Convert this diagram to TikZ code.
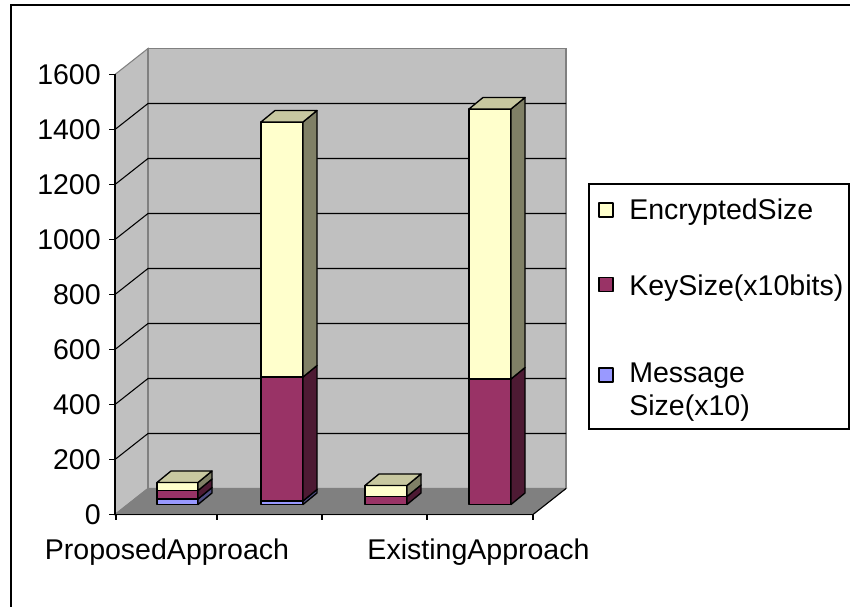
\documentclass[tikz,border=0pt]{standalone}
\usepackage{fontspec}
\setmainfont{Liberation Sans}
\definecolor{wallgray}{HTML}{C0C0C0}
\definecolor{edgegray}{HTML}{808080}
\definecolor{floorgray}{HTML}{808080}
\definecolor{encfront}{HTML}{FFFFCC}
\definecolor{enctop}{HTML}{C8C8A0}
\definecolor{encside}{HTML}{808066}
\definecolor{keyfront}{HTML}{993366}
\definecolor{keytop}{HTML}{7A2952}
\definecolor{keyside}{HTML}{4D1A33}
\definecolor{msgfront}{HTML}{9999FF}
\definecolor{msgtop}{HTML}{7A7ACC}
\definecolor{msgside}{HTML}{4D4D80}

\begin{document}
\begin{tikzpicture}[x=.75pt, y=.75pt,
	every node/.style={font=\fontsize{21.4}{26}\selectfont, inner sep=0pt},
	wall/.style={fill=wallgray, draw=edgegray, line width=.8pt},
	floorpanel/.style={fill=floorgray, draw=edgegray, line width=.8pt},
	gridline/.style={draw=black, line width=.8pt},
	axis/.style={draw=black, line width=1pt},
	boxedge/.style={draw=black, line width=1pt, line join=round},
	enc/.style={boxedge, fill=encfront},
	enctopface/.style={boxedge, fill=enctop},
	encsideface/.style={boxedge, fill=encside},
	key/.style={boxedge, fill=keyfront},
	keysideface/.style={boxedge, fill=keyside},
	msg/.style={boxedge, fill=msgfront},
	msgsideface/.style={boxedge, fill=msgside}]
\useasboundingbox (0,0) rectangle (850,607);
\draw[line width=1pt] (11,-10) rectangle (860,602);

\filldraw[wall] (115,92.5) -- (148,118.5) -- (148,558.5) -- (115,532.5) -- cycle;
\filldraw[wall] (148,118.5) rectangle (566,558.5);
\draw[gridline] (115,147.5) -- (148,173.5) -- (566,173.5);
\draw[gridline] (115,202.5) -- (148,228.5) -- (566,228.5);
\draw[gridline] (115,257.5) -- (148,283.5) -- (566,283.5);
\draw[gridline] (115,312.5) -- (148,338.5) -- (566,338.5);
\draw[gridline] (115,367.5) -- (148,393.5) -- (566,393.5);
\draw[gridline] (115,422.5) -- (148,448.5) -- (566,448.5);
\draw[gridline] (115,477.5) -- (148,503.5) -- (566,503.5);
\filldraw[floorpanel] (115,92.5) -- (148,118.5) -- (566,118.5) -- (533,92.5) -- cycle;
\draw[gridline] (533,92.5) -- (566,118.5);

\filldraw[msg] (157,102.5) rectangle (198,108);
\filldraw[msgsideface] (198,102.5) -- ++(14,11.5) -- ++(0,5.5) -- ++(-14,-11.5) -- cycle;
\filldraw[key] (157,108) rectangle (198,116.5);
\filldraw[keysideface] (198,108) -- ++(14,11.5) -- ++(0,8.5) -- ++(-14,-11.5) -- cycle;
\filldraw[enc] (157,116.5) rectangle (198,124.5);
\filldraw[encsideface] (198,116.5) -- ++(14,11.5) -- ++(0,8) -- ++(-14,-11.5) -- cycle;
\filldraw[enctopface] (157,124.5) -- ++(14,11.5) -- ++(41,0) -- ++(-14,-11.5) -- cycle;

\filldraw[msg] (261,102.5) rectangle (303,106);
\filldraw[msgsideface] (303,102.5) -- ++(14,11.5) -- ++(0,3.5) -- ++(-14,-11.5) -- cycle;
\filldraw[key] (261,106) rectangle (303,230);
\filldraw[keysideface] (303,106) -- ++(14,11.5) -- ++(0,124) -- ++(-14,-11.5) -- cycle;
\filldraw[enc] (261,230) rectangle (303,485);
\filldraw[encsideface] (303,230) -- ++(14,11.5) -- ++(0,255) -- ++(-14,-11.5) -- cycle;
\filldraw[enctopface] (261,485) -- ++(14,11.5) -- ++(42,0) -- ++(-14,-11.5) -- cycle;

\filldraw[key] (365,102.5) rectangle (407,110.5);
\filldraw[keysideface] (407,102.5) -- ++(14,11.5) -- ++(0,8) -- ++(-14,-11.5) -- cycle;
\filldraw[enc] (365,110.5) rectangle (407,121.5);
\filldraw[encsideface] (407,110.5) -- ++(14,11.5) -- ++(0,11) -- ++(-14,-11.5) -- cycle;
\filldraw[enctopface] (365,121.5) -- ++(14,11.5) -- ++(42,0) -- ++(-14,-11.5) -- cycle;

\filldraw[key] (469,102.5) rectangle (511,228);
\filldraw[keysideface] (511,102.5) -- ++(14,11.5) -- ++(0,125.5) -- ++(-14,-11.5) -- cycle;
\filldraw[enc] (469,228) rectangle (511,498);
\filldraw[encsideface] (511,228) -- ++(14,11.5) -- ++(0,270) -- ++(-14,-11.5) -- cycle;
\filldraw[enctopface] (469,498) -- ++(14,11.5) -- ++(42,0) -- ++(-14,-11.5) -- cycle;

\draw[axis] (115,92.5) -- (115,532.5);
\draw[axis] (109,92.5) -- (115,92.5) (109,147.5) -- (115,147.5)
	(109,202.5) -- (115,202.5) (109,257.5) -- (115,257.5)
	(109,312.5) -- (115,312.5) (109,367.5) -- (115,367.5)
	(109,422.5) -- (115,422.5) (109,477.5) -- (115,477.5)
	(109,532.5) -- (115,532.5);
\draw[axis] (115,92.5) -- (533,92.5);
\draw[axis] (116,92.5) -- (116,87) (217,92.5) -- (217,87)
	(322,92.5) -- (322,87) (427,92.5) -- (427,87) (533,92.5) -- (533,87);

\node[anchor=east] (v0) at (101,92.5) {0};
\node[anchor=east] (v200) at (101,147.5) {200};
\node[anchor=east] (v400) at (101,202.5) {400};
\node[anchor=east] (v600) at (101,257.5) {600};
\node[anchor=east] (v800) at (101,312.5) {800};
\node[anchor=east] (v1000) at (101,367.5) {1000};
\node[anchor=east] (v1200) at (101,422.5) {1200};
\node[anchor=east] (v1400) at (101,477.5) {1400};
\node[anchor=east] (v1600) at (101,532.5) {1600};
\node[anchor=base] (proposed) at (167,47) {ProposedApproach};
\node[anchor=base] (existing) at (478.5,47) {ExistingApproach};

\draw[line width=1pt, fill=white] (589,178) rectangle (849,423);
\filldraw[boxedge, line width=.8pt, fill=encfront] (599,390) rectangle ++(14,14);
\node[anchor=base west] (lgenc) at (629,387) {EncryptedSize};
\filldraw[boxedge, line width=.8pt, fill=keyfront] (599,315.5) rectangle ++(14,14);
\node[anchor=base west] (lgkey) at (629,311) {KeySize(x10bits)};
\filldraw[boxedge, line width=.8pt, fill=msgfront] (599,225) rectangle ++(14,14);
\node[anchor=base west] (lgmsg) at (629,224) {Message};
\node[anchor=base west] (lgmsgb) at (629,191) {Size(x10)};
\end{tikzpicture}
\end{document}
